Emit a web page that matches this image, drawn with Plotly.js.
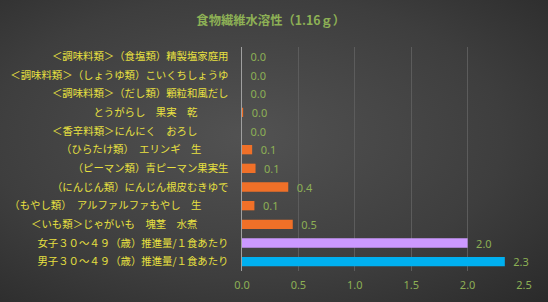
<!DOCTYPE html>
<html><head><meta charset="utf-8">
<script src="https://cdn.plot.ly/plotly-3.0.1.min.js"></script>
<style>
html,body{margin:0;padding:0;}
#chart{width:548px;height:302px;background:radial-gradient(ellipse at 45% 45%, #525252 0%, #3e3e3e 60%, #2a2a2a 100%);}
</style></head>
<body><div id="chart"></div>
<script>
const categories = [
  "＜調味料類＞（食塩類）精製塩家庭用",
  "＜調味料類＞（しょうゆ類）こいくちしょうゆ",
  "＜調味料類＞（だし類）顆粒和風だし",
  "とうがらし　果実　乾",
  "＜香辛料類＞にんにく　おろし",
  "（ひらたけ類）　エリンギ　生",
  "（ピーマン類）青ピーマン果実生",
  "（にんじん類）にんじん根皮むきゆで",
  "（もやし類）　アルファルファもやし　生",
  "＜いも類＞じゃがいも　塊茎　水煮",
  "女子３０～４９（歳）推進量/１食あたり",
  "男子３０～４９（歳）推進量/１食あたり"
];
// invisible trailing padding after each label, as in the source sheet
const trailingPad = ["口", "口", "口", "口口口口", "口口口口", "口口口n", "口", "口", "口口口n", "口口口口", "口", "口"];
const values = [0, 0, 0, 0.01, 0, 0.09, 0.12, 0.41, 0.11, 0.45, 2.0, 2.33];
const barColors = ["#f07028","#f07028","#f07028","#f07028","#f07028","#f07028","#f07028","#f07028","#f07028","#f07028","#cc99ff","#00b0f0"];
const xTicks = [0, 0.5, 1.0, 1.5, 2.0, 2.5];

const labelText = categories.map((c, i) => c +
  '<span style="color:rgba(0,0,0,0)">' + trailingPad[i] + '</span>');

const trace = {
  type: 'bar', orientation: 'h',
  y: categories, x: values,
  marker: {color: barColors},
  width: 0.5,
  text: values.map(v => '\u2002' + v.toFixed(1)),
  textposition: 'outside',
  constraintext: 'none',
  textfont: {family: 'Noto Sans, sans-serif', size: 11, color: '#8db055'},
  cliponaxis: false,
  hoverinfo: 'none'
};
const layout = {
  width: 548, height: 302,
  paper_bgcolor: 'rgba(0,0,0,0)', plot_bgcolor: 'rgba(0,0,0,0)',
  margin: {l: 242, r: 24, t: 47, b: 31},
  title: {text: '<b>食物繊維水溶性（1.16ｇ）</b>', x: 0.494, xanchor: 'center', y: 0.93, yanchor: 'middle',
          font: {family: 'Noto Sans CJK JP, sans-serif', size: 12.3, color: '#8db055'}},
  showlegend: false,
  xaxis: {range: [0, 2.5], tickvals: xTicks, ticktext: xTicks.map(v => v.toFixed(1)),
          showgrid: true, gridcolor: '#5c5c5c', gridwidth: 1, zeroline: false,
          showline: false, ticks: '', ticklabelstandoff: 6,
          tickfont: {family: 'Noto Sans, sans-serif', size: 11, color: '#8db055'}, fixedrange: true},
  yaxis: {autorange: 'reversed', showline: true, linecolor: '#a0a0a0', linewidth: 1,
          showgrid: false, ticks: '', ticklen: 0, ticklabelstandoff: 0,
          tickvals: categories, ticktext: labelText,
          tickfont: {family: 'Noto Sans CJK JP, sans-serif', size: 10.4, color: '#e8e040'}, fixedrange: true},
  bargap: 0.5
};
Plotly.newPlot('chart', [trace], layout, {displayModeBar: false, staticPlot: true});
</script></body></html>
